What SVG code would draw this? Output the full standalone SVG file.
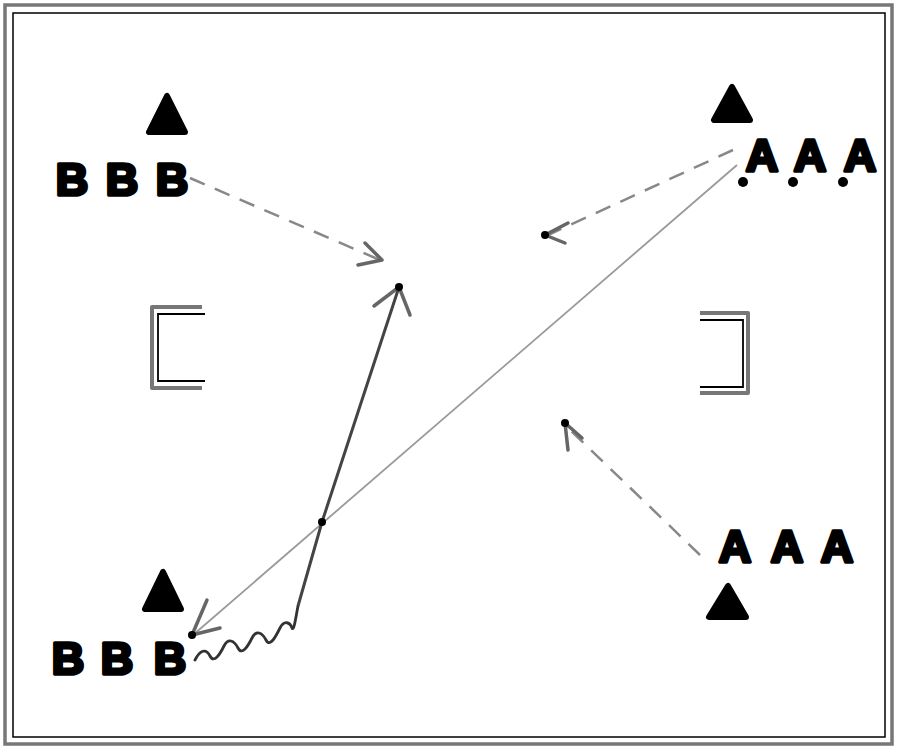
<svg xmlns="http://www.w3.org/2000/svg" width="900" height="752" viewBox="0 0 900 752">
<defs>
<style>
.pl{font-family:"Liberation Sans",Arial,sans-serif;font-weight:bold;font-size:45px;fill:#000;stroke:#000;stroke-width:3.5;stroke-linejoin:round;text-anchor:middle}
.cone{fill:#000;stroke:#000;stroke-width:6;stroke-linejoin:round}
.goalo{fill:none;stroke:#777;stroke-width:4;stroke-linejoin:round}
.goali{fill:none;stroke:#000;stroke-width:1.8}
.dash{fill:none;stroke:#888;stroke-width:2.5;stroke-dasharray:16 11}
.thin{fill:none;stroke:#999;stroke-width:1.8}
.dark{fill:none;stroke:#444;stroke-width:3}
.head{fill:none;stroke:#666;stroke-width:3.5;stroke-linecap:round;stroke-linejoin:round}
</style>
</defs>
<rect width="900" height="752" fill="#fff"/>
<g id="frame">
<rect x="5" y="5" width="887" height="739" fill="none" stroke="#777" stroke-width="3.5"/>
<rect x="13" y="13" width="872" height="724" fill="none" stroke="#000" stroke-width="1.5"/>
</g>
<g id="goal-left">
<polyline class="goalo" points="202,307 152,307 152,388 202,388"/>
<polyline class="goali" points="205,314 158,314 158,381 205,381"/>
</g>
<g id="goal-right">
<polyline class="goalo" points="700,313 748,313 748,393 700,393"/>
<polyline class="goali" points="700,320 743,320 743,387 700,387"/>
</g>
<g id="connectors">
<path class="dash" d="M190,178 L380,260"/>
<path class="head" d="M365,243 L382,260 L358,265"/>
<path class="dash" d="M733,150 L548,235"/>
<path class="head" d="M568,223 L545,235 L565,243"/>
<path class="dash" d="M700,555 L568,428"/>
<path class="head" d="M582,438 L565,423 L568,450"/>
<path class="thin" d="M737,165 L193,635"/>
<path class="head" d="M207,600 L192,635 L220,628"/>
<path fill="none" stroke="#333" stroke-width="2.8" stroke-linecap="round" stroke-linejoin="round" d="M195,660 C200,650 206,648 210,656 C214,664 220,654 224,646 C228,638 234,640 238,648 C242,656 248,646 252,638 C256,630 262,632 266,640 C270,648 276,636 280,628 C284,620 290,622 292,628 C294,632 296,616 298,606"/>
<path class="dark" d="M298,606 L322,522 L399,287"/>
<path class="head" d="M374,306 L399,287 L410,315"/>
<circle cx="399" cy="287" r="4" fill="#000"/>
<circle cx="322" cy="522" r="4" fill="#000"/>
<circle cx="545" cy="235" r="4" fill="#000"/>
<circle cx="565" cy="423" r="4" fill="#000"/>
<circle cx="192" cy="635" r="4" fill="#000"/>
</g>
<g id="cone-tl"><polygon class="cone" points="167,96 149,132 185,132"/></g>
<g id="cone-tr"><polygon class="cone" points="732,87 714,120 750,120"/></g>
<g id="cone-bl"><polygon class="cone" points="163,572 145,609 181,609"/></g>
<g id="cone-br"><polygon class="cone" points="728,586 709,617 746,617"/></g>
<g id="team-b-top">
<text class="pl" x="72" y="195">B</text>
<text class="pl" x="122" y="195">B</text>
<text class="pl" x="172" y="195">B</text>
</g>
<g id="team-b-bottom">
<text class="pl" x="68" y="674">B</text>
<text class="pl" x="117" y="674">B</text>
<text class="pl" x="170" y="674">B</text>
</g>
<g id="team-a-top">
<text class="pl" x="762" y="171">A</text>
<text class="pl" x="810" y="171">A</text>
<text class="pl" x="860" y="171">A</text>
<circle cx="743" cy="182" r="5" fill="#000"/>
<circle cx="793" cy="182" r="5" fill="#000"/>
<circle cx="843" cy="182" r="5" fill="#000"/>
</g>
<g id="team-a-bottom">
<text class="pl" x="735" y="562">A</text>
<text class="pl" x="787" y="562">A</text>
<text class="pl" x="837" y="562">A</text>
</g>
</svg>
